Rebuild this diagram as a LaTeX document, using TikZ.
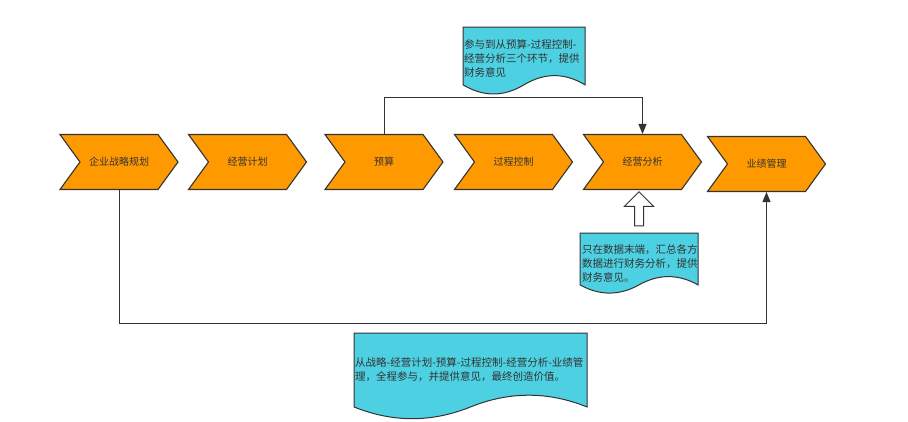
\documentclass[tikz,border=0pt]{standalone}
\usepackage{fontspec}
\setmainfont{Noto Sans CJK SC}
\usetikzlibrary{arrows.meta,calc,positioning,shapes.symbols,shapes.arrows}
\definecolor{flowOrange}{HTML}{FF9900}
\definecolor{flowCyan}{HTML}{4DD0E1}
\definecolor{flowLine}{HTML}{333333}
\definecolor{flowText}{HTML}{333333}
% wavy note outline: top left corner, width, height
\newcommand{\notedoc}[3]{%
\draw[notebox] (#1) -- ($(#1)+(#2,0)$) -- ($(#1)+(#2,0.85*#3)$)
 .. controls ($(#1)+(0.8333*#2,0.67*#3)$) and ($(#1)+(0.6667*#2,0.67*#3)$) .. ($(#1)+(0.5*#2,0.85*#3)$)
 .. controls ($(#1)+(0.3333*#2,1.03*#3)$) and ($(#1)+(0.1667*#2,1.03*#3)$) .. ($(#1)+(0,0.85*#3)$) -- cycle;}

\begin{document}
\begin{tikzpicture}[x=1pt,y=-1pt,stage/.style={signal,signal from=west,signal to=east,signal pointer angle=108,fill=flowOrange,draw=flowLine,line width=1.1pt,minimum width=118pt,minimum height=55pt,inner sep=0pt,text=flowText,font=\fontsize{10}{12}\selectfont},notebox/.style={fill=flowCyan,draw=flowLine,line width=1pt},notetext/.style={align=left,inner sep=0pt,text=flowText,font=\fontsize{10.5}{14}\selectfont},conn/.style={draw=flowLine,line width=1pt,-{Triangle[length=10pt,width=8pt]}}]
\useasboundingbox (0,0) rectangle (908,421);
\node[stage] (a) at (119,162) {企业战略规划};
\node[stage] (b) at (247.5,162) {经营计划};
\node[stage] (c) at (384,162) {预算};
\node[stage] (d) at (513.5,162) {过程控制};
\node[stage] (e) at (642.5,162) {经营分析};
\node[stage] (f) at (766.5,164) {业绩管理};
\draw[conn] (c.north) -- ++(0,-36) -| (e.north);
\draw[conn] (a.south) -- ++(0,133) -| (f.south);
\node[single arrow,draw=flowLine,fill=white,line width=1pt,rotate=90,minimum height=34pt,inner xsep=0pt,inner ysep=4pt,single arrow head extend=10pt] (up) at (639,211) {};
\coordinate (c1) at (463,27);
\notedoc{c1}{122}{68}
\node[notetext,anchor=west] (n1) at (464,58) {参与到从预算-过程控制-\\经营分析三个环节，提供\\财务意见};
\coordinate (c2) at (580,233);
\notedoc{c2}{118}{61}
\node[notetext,anchor=west] (n2) at (582,263) {只在数据末端，汇总各方\\数据进行财务分析，提供\\财务意见。};
\coordinate (c3) at (354,333);
\notedoc{c3}{233}{87}
\node[notetext,anchor=west] (n3) at (355,370) {从战略-经营计划-预算-过程控制-经营分析-业绩管\\理，全程参与，并提供意见，最终创造价值。};
\end{tikzpicture}
\end{document}
